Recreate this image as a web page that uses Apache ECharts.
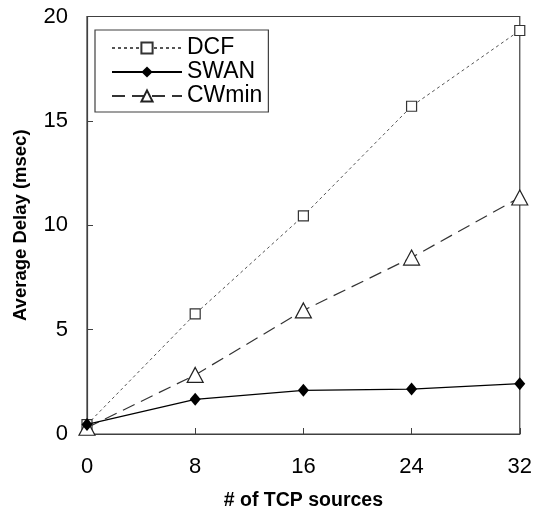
<!DOCTYPE html>
<html><head><meta charset="utf-8">
<script src="https://cdn.jsdelivr.net/npm/echarts@6/dist/echarts.min.js"></script>
<style>html,body{margin:0;padding:0;background:#fff}#c{width:535px;height:516px}</style>
</head><body><div id="c"></div>
<script>
const xValues = [0, 8, 16, 24, 32];
const dcf = [0.45, 5.75, 10.45, 15.7, 19.33];
const swan = [0.46, 1.66, 2.09, 2.15, 2.41];
const cwmin = [0.3, 2.83, 5.92, 8.45, 11.33];
const xTicks = [0, 8, 16, 24, 32];
const yTicks = [0, 5, 10, 15, 20];

const pair = arr => xValues.map((x, i) => [x, arr[i]]);
const chart = echarts.init(document.getElementById('c'));
const font = 'Arial, "Liberation Sans", sans-serif';
chart.setOption({
  animation: false,
  backgroundColor: '#fff',
  grid: {left: 87, right: 14, top: 16.5, bottom: 78, show: true, borderColor: '#404040', borderWidth: 1.2, backgroundColor: 'transparent'},
  legend: {
    left: 95, top: 30, orient: 'vertical', itemWidth: 70, itemHeight: 14, itemGap: 0,
    padding: [6, 6, 4, 16],
    borderColor: '#404040', borderWidth: 1.2, backgroundColor: '#fff',
    textStyle: {fontFamily: font, fontSize: 23, lineHeight: 24, color: '#000'},
    data: ['DCF', 'SWAN', 'CWmin']
  },
  xAxis: {
    type: 'value', min: 0, max: 32, interval: 8,
    name: '# of TCP sources', nameLocation: 'middle', nameGap: 57,
    nameTextStyle: {fontFamily: font, fontSize: 19.5, fontWeight: 'bold', color: '#000'},
    axisLine: {lineStyle: {color: '#404040', width: 1.2}},
    axisTick: {inside: true, length: 6, lineStyle: {color: '#404040'}},
    axisLabel: {fontFamily: font, fontSize: 22, color: '#000', margin: 22,
      formatter: v => xTicks.includes(v) ? String(v) : ''},
    splitLine: {show: false}
  },
  yAxis: {
    type: 'value', min: 0, max: 20, interval: 5,
    name: 'Average Delay (msec)', nameLocation: 'middle', nameGap: 57,
    nameTextStyle: {fontFamily: font, fontSize: 18.5, fontWeight: 'bold', color: '#000'},
    axisLine: {lineStyle: {color: '#404040', width: 1.2}},
    axisTick: {inside: true, length: 6, lineStyle: {color: '#404040'}},
    axisLabel: {fontFamily: font, fontSize: 22, color: '#000', margin: 19,
      formatter: v => yTicks.includes(v) ? String(v) : ''},
    splitLine: {show: false}
  },
  series: [
    {name: 'DCF', type: 'line', data: pair(dcf), clip: false,
      symbol: 'rect', symbolSize: 10,
      lineStyle: {color: '#555', width: 1, type: [3, 3]},
      itemStyle: {color: '#fff', borderColor: '#333', borderWidth: 1.2}, z: 3},
    {name: 'SWAN', type: 'line', data: pair(swan), clip: false,
      symbol: 'diamond', symbolSize: [11, 13],
      lineStyle: {color: '#000', width: 1.2, type: 'solid'},
      itemStyle: {color: '#000', borderColor: '#000', borderWidth: 0}, z: 4},
    {name: 'CWmin', type: 'line', data: pair(cwmin), clip: false,
      symbol: 'triangle', symbolSize: [16, 15],
      lineStyle: {color: '#333', width: 1.2, type: [13, 7]},
      itemStyle: {color: '#fff', borderColor: '#222', borderWidth: 1.2}, z: 3}
  ]
});
</script></body></html>
